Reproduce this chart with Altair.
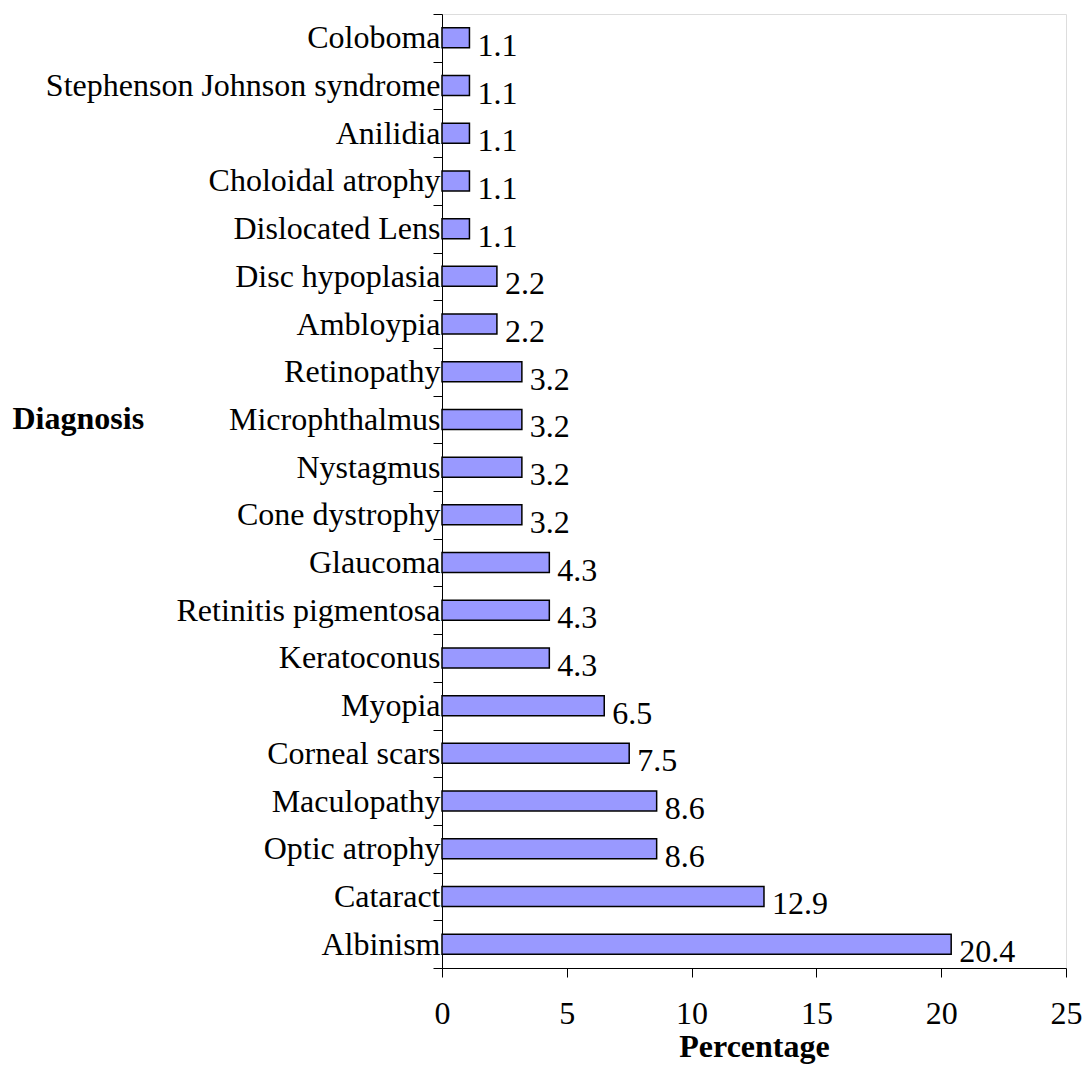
import altair as alt
import pandas as pd

categories = [
    "Coloboma", "Stephenson Johnson syndrome", "Anilidia", "Choloidal atrophy",
    "Dislocated Lens", "Disc hypoplasia", "Ambloypia", "Retinopathy",
    "Microphthalmus", "Nystagmus", "Cone dystrophy", "Glaucoma",
    "Retinitis pigmentosa", "Keratoconus", "Myopia", "Corneal scars",
    "Maculopathy", "Optic atrophy", "Cataract", "Albinism",
]
values = [1.1, 1.1, 1.1, 1.1, 1.1, 2.2, 2.2, 3.2, 3.2, 3.2, 3.2, 4.3, 4.3, 4.3,
          6.5, 7.5, 8.6, 8.6, 12.9, 20.4]
x_ticks = [0, 5, 10, 15, 20, 25]

df = pd.DataFrame({"Diagnosis": categories, "Percentage": values})
FONT = "Liberation Serif"

y_enc = alt.Y(
    "Diagnosis:N",
    sort=categories,
    scale=alt.Scale(paddingInner=0, paddingOuter=0),
    axis=alt.Axis(
        title="Diagnosis",
        titleAngle=0,
        titleAlign="left",
        titleBaseline="middle",
        titleX=-430,
        titleY=404,
        titleFont=FONT,
        titleFontSize=32,
        titleFontWeight="bold",
        titleColor="black",
        labelFont=FONT,
        labelFontSize=32,
        labelColor="black",
        labelPadding=-7,
        labelLimit=500,
        tickSize=9,
        tickColor="black",
        tickBand="extent",
        domainColor="black",
        grid=False,
    ),
)

x_enc = alt.X(
    "Percentage:Q",
    scale=alt.Scale(domain=[0, 25], nice=False),
    axis=alt.Axis(
        title="Percentage",
        values=x_ticks,
        titleFont=FONT,
        titleFontSize=32,
        titleFontWeight="bold",
        titleColor="black",
        titlePadding=2,
        labelFont=FONT,
        labelFontSize=32,
        labelColor="black",
        labelPadding=21,
        labelFlush=False,
        tickSize=9,
        tickColor="black",
        domainColor="black",
        grid=False,
    ),
)

bars = alt.Chart(df).mark_bar(
    size=20, color="#9999FF", stroke="black", strokeWidth=1.5
).encode(x=x_enc, y=y_enc)

labels = alt.Chart(df).mark_text(
    align="left", baseline="middle", dx=8, dy=8, font=FONT, fontSize=32, color="black"
).encode(
    x=alt.X("Percentage:Q"),
    y=alt.Y("Diagnosis:N", sort=categories),
    text=alt.Text("Percentage:Q", format=".1f"),
)

chart = (
    (bars + labels)
    .properties(
        width=624,
        height=954,
        autosize=alt.AutoSizeParams(type="none"),
        padding={"left": 434, "top": 6, "right": 16, "bottom": 96},
    )
    .configure_view(stroke=None)
    .configure(background="white")
)

chart.save("out.html", embed_options={"renderer": "svg", "actions": False})
